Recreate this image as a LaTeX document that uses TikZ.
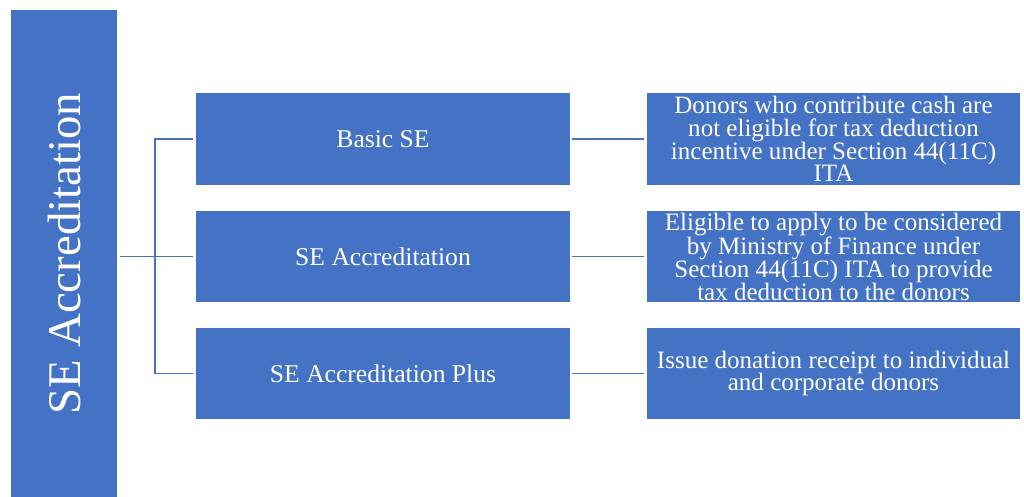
\documentclass[tikz,border=0pt]{standalone}
\usepackage{fontspec}
\setmainfont{Liberation Serif}
\definecolor{seblue}{HTML}{4472C4}

\begin{document}
\begin{tikzpicture}[x=0.025cm,y=-0.025cm,
    boxfill/.style={fill=seblue, text=white, inner sep=0pt, align=center},
    midbox/.style={boxfill, minimum width=9.35cm, minimum height=2.275cm, font=\fontsize{18.2}{16.2}\selectfont},
    notebox/.style={boxfill, minimum width=9.325cm, minimum height=2.275cm, font=\fontsize{17.8}{16.2}\selectfont},
    link/.style={draw=seblue, line width=1.4pt}]
  \useasboundingbox (0,0) rectangle (1024,497);
  %% rotated bar: its south anchor is the right edge
  \node[boxfill, rotate=90, minimum width=12.175cm, minimum height=2.65cm, font=\fontsize{33.3}{36}\selectfont] (bar) at (64,253.5) {SE Accreditation};
  \foreach \i/\y/\txt in {1/139/Basic SE, 2/256.5/SE Accreditation, 3/373.5/SE Accreditation Plus} { %middle column
    \node[midbox] (mid\i) at (383,\y) {\txt};
  }
  \node[notebox] (note1) at (833.5,139) {Donors who contribute cash are\\not eligible for tax deduction\\incentive under Section 44(11C)\\ITA};
  \node[notebox] (note2) at (833.5,256.5) {Eligible to apply to be considered\\by Ministry of Finance under\\Section 44(11C) ITA to provide\\tax deduction to the donors};
  \node[notebox] (note3) at (833.5,373.5) {Issue donation receipt to individual\\and corporate donors};
  \coordinate (hub) at (155,256.5);
  \draw[link] ([xshift=2pt]bar.south |- hub) -- ([xshift=-2pt]mid2.west);
  \draw[link] ([xshift=-2pt]mid1.west) -| (hub) |- ([xshift=-2pt]mid3.west);
  \foreach \i in {1,2,3} {  %links to the notes
    \draw[link] ([xshift=1.5pt]mid\i.east) -- ([xshift=-2pt]note\i.west);
  }
\end{tikzpicture}
\end{document}
